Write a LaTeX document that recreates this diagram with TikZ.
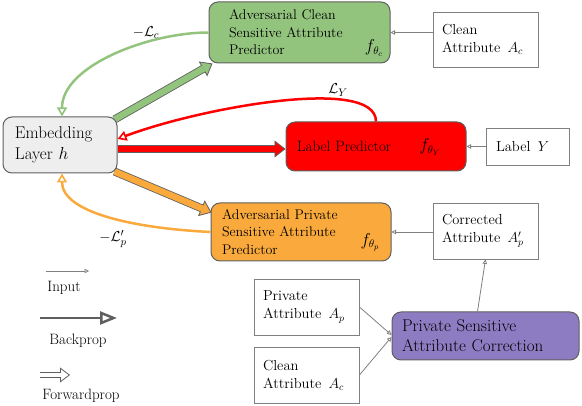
\documentclass[tikz,border=0pt]{standalone}
\usepackage{amsmath,amssymb}
\usepackage{xcolor}
\usepackage{tikz}
\usetikzlibrary{arrows.meta}
\pgfdeclarelayer{background}
\pgfsetlayers{background,main}
\definecolor{advgreen}{RGB}{147,196,125}
\definecolor{advorange}{RGB}{250,170,60}
\definecolor{lblred}{RGB}{255,0,0}
\definecolor{corrpurple}{RGB}{142,124,195}
\definecolor{embgray}{RGB}{238,238,238}
\definecolor{edgegray}{RGB}{95,95,95}
\definecolor{thingray}{RGB}{128,128,128}

\begin{document}
\begin{tikzpicture}[x=1pt,y=1pt,
  block/.style={draw=edgegray, line width=1pt, rounded corners=9pt, align=left, inner ysep=0pt},
  attr/.style={draw=thingray, line width=0.9pt, fill=white, align=left, inner xsep=9pt, inner ysep=0pt, font=\fontsize{14.5}{18}\selectfont},
  input/.style={draw=thingray, line width=0.8pt, -{Triangle[open,length=4.5pt,width=4.5pt]}},
  back/.style={draw=#1, line width=2.5pt, -{Triangle[length=9pt,width=10pt,line width=1.6pt,fill=white]}},
  fwd/.style={draw=edgegray, line width=8pt, -{Triangle[length=11pt,width=17pt,line width=0.8pt,fill=#1]}},
  fwdin/.style={draw=#1, line width=6.4pt, shorten >=10pt},
  fnode/.style={font=\fontsize{16}{18}\selectfont},
  lossl/.style={font=\fontsize{15}{18}\selectfont},
  legend/.style={font=\fontsize{15}{18}\selectfont}]
\useasboundingbox (0,0) rectangle (582,406);

\node[block, fill=embgray, inner xsep=12pt, text width=90pt, minimum height=56pt, font=\fontsize{17}{21}\selectfont] (emb) at (60,261) {Embedding\\Layer\ $h$};
\node[block, fill=advgreen, inner xsep=20pt, text width=141pt, minimum height=61pt, font=\fontsize{14}{17.5}\selectfont] (grn) at (299.5,373.5) {Adversarial Clean\\Sensitive Attribute\\Predictor};
\node[fnode] (fc) at (374,358) {$f_{\theta_c}$};
\node[block, fill=lblred, inner xsep=11pt, text width=158pt, minimum height=49pt, font=\fontsize{15}{18}\selectfont] (lbl) at (376,259.5) {Label Predictor};
\node[fnode] (fy) at (430,259) {$f_{\theta_Y}$};
\node[block, fill=advorange, inner xsep=11pt, text width=158pt, minimum height=58pt, font=\fontsize{14}{17.5}\selectfont] (org) at (301,174) {Adversarial Private\\Sensitive Attribute\\Predictor};
\node[fnode] (fp) at (370,164) {$f_{\theta_p}$};
\node[block, fill=corrpurple, inner xsep=10pt, text width=167pt, minimum height=48pt, font=\fontsize{17}{20}\selectfont] (psac) at (485.5,70) {Private Sensitive\\Attribute Correction};

\node[attr, text width=87pt, minimum height=55pt] (clnA) at (485.5,366.5) {Clean\\Attribute\enspace$A_c$};
\node[attr, inner xsep=10pt, text width=63pt, minimum height=37pt] (lab) at (527.5,259.5) {Label\enspace$Y$};
\node[attr, text width=87pt, minimum height=56pt] (corr) at (485.5,175) {Corrected\\Attribute\enspace$A_p^{\prime}$};
\node[attr, text width=87pt, minimum height=56pt] (privA) at (306.5,99) {Private\\Attribute\enspace$A_p$};
\node[attr, text width=87pt, minimum height=56pt] (clnB) at (306.5,31) {Clean\\Attribute\enspace$A_c$};

\begin{pgfonlayer}{background}
\draw[fwd=advgreen] ([xshift=-3pt,yshift=-3pt]emb.north east) -- ([xshift=4pt]grn.south west);
\draw[fwdin=advgreen] ([xshift=-3pt,yshift=-3pt]emb.north east) -- ([xshift=4pt]grn.south west);
\draw[fwd=lblred] ([yshift=-4pt]emb.east) -- ([yshift=-4pt]emb.east -| lbl.west);
\draw[fwdin=lblred] ([yshift=-4pt]emb.east) -- ([yshift=-4pt]emb.east -| lbl.west);
\draw[fwd=advorange] ([xshift=-3pt,yshift=2pt]emb.south east) -- ([xshift=1pt,yshift=-10pt]org.north west);
\draw[fwdin=advorange] ([xshift=-3pt,yshift=2pt]emb.south east) -- ([xshift=1pt,yshift=-10pt]org.north west);
\end{pgfonlayer}

\draw[back=advgreen] (grn.west) .. controls +(-59,0) and +(0,51) .. ([xshift=2pt]emb.north);
\node[lossl] (lc) at (146,373) {$-\mathcal{L}_c$};
\draw[back=lblred] (lbl.north) .. controls +(0,46) and +(82,31) .. ([yshift=6pt]emb.east);
\node[lossl] (ly) at (338,316) {$\mathcal{L}_Y$};
\draw[back=advorange] (org.west) .. controls +(-81,4) and +(0,-38) .. ([xshift=2pt]emb.south);
\node[lossl] (lp) at (113,167) {$-\mathcal{L}_p^{\prime}$};

\draw[input] (grn.east -| clnA.west) -- (grn.east);
\draw[input] (lab.west) -- (lbl.east);
\draw[input] (org.east -| corr.west) -- (org.east);
\draw[input] (privA.east) -- ([yshift=1pt]psac.west);
\draw[input] (clnB.east) -- ([yshift=-1pt]psac.west);
\draw[input] ([xshift=-8pt]psac.north) -- (corr.south);

\coordinate (inS) at (46,135);
\coordinate (inE) at (89,135);
\draw[input] (inS) -- (inE);
\node[legend] (inL) at (64,118) {Input};
\coordinate (bpS) at (40,88);
\coordinate (bpE) at (117,88);
\draw[draw=edgegray, line width=2.5pt, -{Triangle[length=17pt,width=13pt,fill=white]}] (bpS) -- (bpE);
\node[legend] (bpL) at (78,65) {Backprop};
\coordinate (fpS) at (40,31);
\coordinate (fpE) at (70,31);
\draw[draw=edgegray, line width=6pt, -{Triangle[length=10pt,width=15pt,line width=0.8pt,fill=white]}] (fpS) -- (fpE);
\draw[draw=white, line width=4.4pt, shorten >=9pt] (fpS) -- (fpE);
\node[legend] (fpL) at (81,10) {Forwardprop};
\end{tikzpicture}
\end{document}
